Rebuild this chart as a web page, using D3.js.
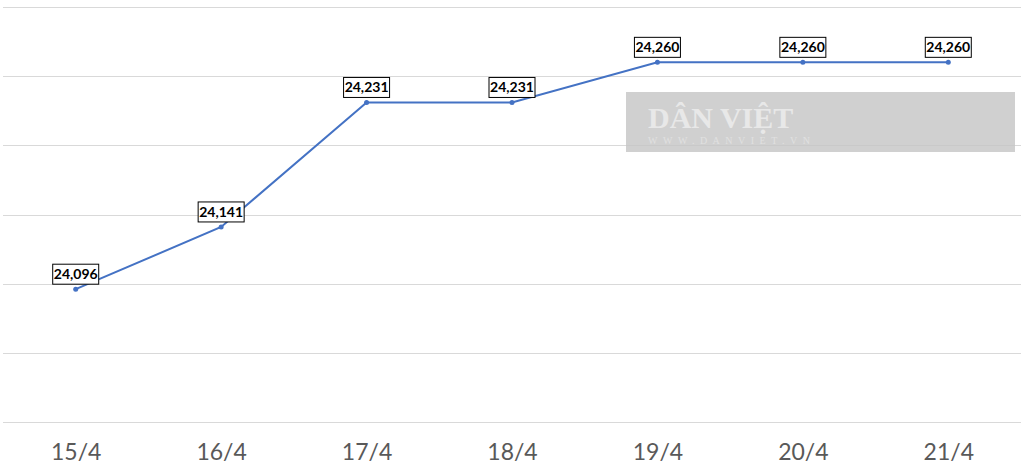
<!DOCTYPE html>
<html><head><meta charset="utf-8">
<script src="https://cdn.jsdelivr.net/npm/d3@7"></script>
<style>body{margin:0;background:#fff}svg{display:block}</style>
</head><body><svg id="c" width="1029" height="475"></svg>
<script>
const categories = ["15/4","16/4","17/4","18/4","19/4","20/4","21/4"];
const values = [24096,24141,24231,24231,24260,24260,24260];
const yTicks = [24000,24050,24100,24150,24200,24250,24300];

const svg = d3.select("#c");
const W = 1029, H = 475;
const m = {left:3, right:8, top:7, bottom:53};
const x = d3.scalePoint().domain(categories).range([m.left, W - m.right]).padding(0.5);
const y = d3.scaleLinear().domain([24000,24300]).range([H - m.bottom, m.top]);

// gridlines
svg.append("g").selectAll("line").data(yTicks).join("line")
  .attr("x1", m.left).attr("x2", W - m.right)
  .attr("y1", d => Math.round(y(d)) + 0.5).attr("y2", d => Math.round(y(d)) + 0.5)
  .attr("stroke", "#d9d9d9").attr("stroke-width", 1);

// x axis labels
const xAxis = svg.append("g").attr("transform", `translate(0,${H - m.bottom})`)
  .call(d3.axisBottom(x).tickSize(0).tickPadding(22));
xAxis.select(".domain").remove();
xAxis.selectAll("text").attr("font-family", "Lato, 'Open Sans', sans-serif")
  .attr("font-size", 23).attr("fill", "#595959");

// line
const data = categories.map((c,i) => ({c, v: values[i]}));
svg.append("path").datum(data)
  .attr("fill","none").attr("stroke","#4472C4").attr("stroke-width",2)
  .attr("d", d3.line().x(d => x(d.c)).y(d => y(d.v)));
svg.append("g").selectAll("circle").data(data).join("circle")
  .attr("cx", d => x(d.c)).attr("cy", d => y(d.v)).attr("r", 2.5).attr("fill","#4472C4");

// watermark
const wm = svg.append("g");
wm.append("rect").attr("x",626).attr("y",92).attr("width",389).attr("height",60)
  .attr("fill","#c4c4c4").attr("fill-opacity",0.8);
wm.append("text").attr("x",648).attr("y",128).text("DÂN VIỆT")
  .attr("font-family","'Liberation Serif', serif").attr("font-size",30).attr("font-weight","bold")
  .attr("fill","#e8e8e8");
wm.append("text").attr("x",648).attr("y",144).text("WWW.DANVIET.VN")
  .attr("font-family","'Liberation Serif', serif").attr("font-size",10).attr("letter-spacing",5.5)
  .attr("fill","#e0e0e0");

// labels
const lg = svg.append("g").selectAll("g").data(data).join("g")
  .attr("transform", d => `translate(${x(d.c)},${y(d.v) - 15})`);
lg.append("rect").attr("x",-23).attr("y",-10).attr("width",46).attr("height",20)
  .attr("fill","#fff").attr("stroke","#000").attr("stroke-width",1);
lg.append("text").attr("text-anchor","middle").attr("dy","0.36em")
  .attr("font-family","Lato, 'Open Sans', sans-serif").attr("font-weight","bold")
  .attr("font-size",14).attr("fill","#000")
  .text(d => d3.format(",")(d.v));
</script></body></html>
